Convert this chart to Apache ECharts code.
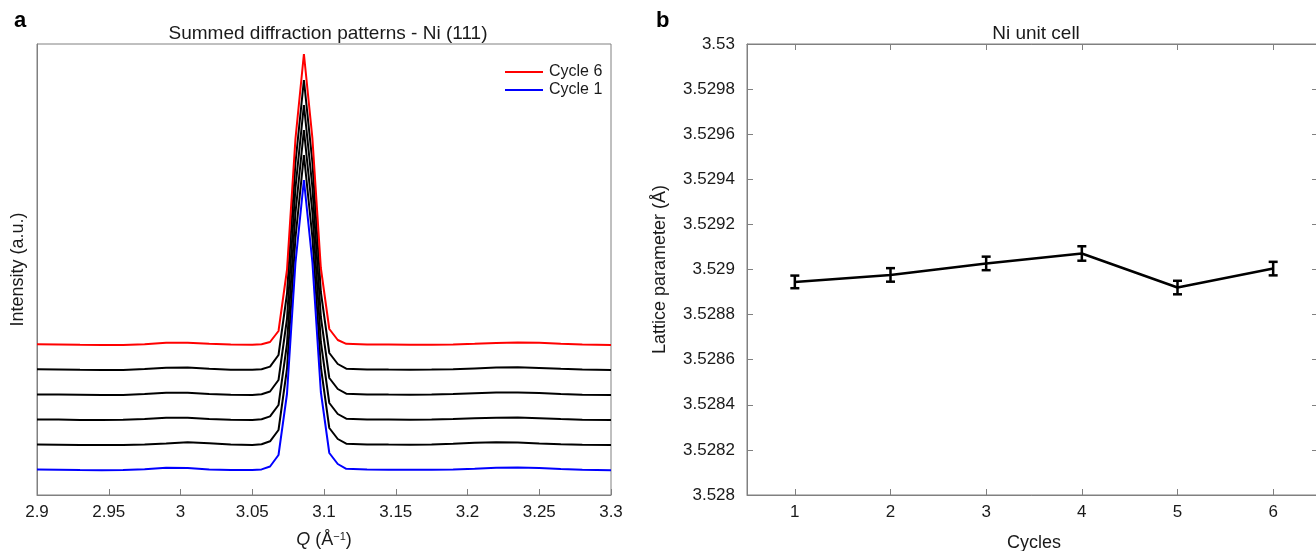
<!DOCTYPE html>
<html>
<head>
<meta charset="utf-8">
<script src="https://cdn.jsdelivr.net/npm/echarts@6/dist/echarts.min.js"></script>
<style>
  html, body { margin: 0; padding: 0; background: #fff; }
  #chart { width: 1316px; height: 551px; }
</style>
</head>
<body>
<div id="chart"></div>
<script>
// panel a - summed diffraction patterns, Ni (111)
const q = [2.9, 2.915, 2.93, 2.945, 2.96, 2.975, 2.99, 3.005, 3.02, 3.035, 3.05, 3.0565,
    3.0624, 3.0683, 3.0742, 3.0801, 3.086, 3.0919, 3.0978, 3.1037, 3.1096, 3.1155,
    3.13, 3.145, 3.16, 3.175, 3.19, 3.205, 3.22, 3.235, 3.25, 3.265, 3.28, 3.3]
const cycle1 = [0.255, 0.253, 0.250, 0.248, 0.249, 0.258, 0.272, 0.270, 0.256, 0.250, 0.250, 0.256,
    0.285, 0.40, 1.01, 2.32, 3.15, 2.33, 1.03, 0.42, 0.31, 0.262,
    0.255, 0.253, 0.252, 0.252, 0.255, 0.262, 0.272, 0.275, 0.270, 0.260, 0.252, 0.248]
const cycle2 = [0.255, 0.253, 0.251, 0.249, 0.250, 0.255, 0.266, 0.278, 0.268, 0.254, 0.251, 0.257,
    0.287, 0.40, 1.01, 2.32, 3.15, 2.33, 1.03, 0.42, 0.31, 0.263,
    0.256, 0.254, 0.253, 0.255, 0.262, 0.272, 0.278, 0.275, 0.266, 0.258, 0.252, 0.250]
const cycle3 = [0.256, 0.254, 0.251, 0.250, 0.252, 0.260, 0.272, 0.272, 0.260, 0.252, 0.251, 0.257,
    0.286, 0.40, 1.01, 2.32, 3.15, 2.33, 1.03, 0.42, 0.31, 0.263,
    0.255, 0.254, 0.253, 0.255, 0.260, 0.268, 0.273, 0.274, 0.268, 0.260, 0.253, 0.250]
const cycle4 = [0.256, 0.254, 0.252, 0.250, 0.251, 0.259, 0.273, 0.273, 0.261, 0.253, 0.251, 0.257,
    0.285, 0.40, 1.01, 2.32, 3.15, 2.33, 1.03, 0.42, 0.31, 0.263,
    0.256, 0.254, 0.253, 0.254, 0.259, 0.267, 0.274, 0.276, 0.270, 0.261, 0.253, 0.250]
const cycle5 = [0.257, 0.255, 0.252, 0.250, 0.251, 0.259, 0.273, 0.274, 0.262, 0.253, 0.252, 0.258,
    0.284, 0.40, 1.01, 2.32, 3.15, 2.33, 1.03, 0.42, 0.31, 0.263,
    0.256, 0.254, 0.253, 0.254, 0.258, 0.266, 0.274, 0.277, 0.271, 0.262, 0.254, 0.250]
const cycle6 = [0.258, 0.256, 0.253, 0.251, 0.251, 0.258, 0.272, 0.272, 0.262, 0.254, 0.252, 0.258,
    0.280, 0.39, 1.00, 2.31, 3.16, 2.32, 1.02, 0.41, 0.30, 0.262,
    0.255, 0.254, 0.253, 0.253, 0.256, 0.262, 0.270, 0.274, 0.272, 0.262, 0.254, 0.250]
const offsets = [0, 0.25, 0.5, 0.75, 1.0, 1.25]

// panel b - Ni unit cell
const cycles = [1, 2, 3, 4, 5, 6]
const lattice = [3.528945, 3.528976, 3.529027, 3.529071, 3.528920, 3.529004]
const latticeErr = [0.000028, 0.000030, 0.000030, 0.000032, 0.000030, 0.000030]

const FONT = '"Liberation Sans", Arial, sans-serif'
const TXT = '#1a1a1a'
const FRAME = '#808080'

let chart = echarts.init(document.getElementById('chart'))

function curve(vals, off) {
    return q.map((x, i) => [x, vals[i] + off])
}

let profiles = [cycle1, cycle2, cycle3, cycle4, cycle5, cycle6]
let series = []
for (let i = 1; i <= 4; i++) {
    series.push({
        name: 'Cycle ' + (i + 1), type: 'line', xAxisIndex: 0, yAxisIndex: 0,
        data: curve(profiles[i], offsets[i]), symbol: 'none',
        lineStyle: { color: '#000', width: 2 }, itemStyle: { color: '#000' }
    })
}
series.push({
    name: 'Cycle 6', type: 'line', xAxisIndex: 0, yAxisIndex: 0,
    data: curve(cycle6, offsets[5]), symbol: 'none',
    lineStyle: { color: '#ff0000', width: 2 }, itemStyle: { color: '#ff0000' }
})
series.push({
    name: 'Cycle 1', type: 'line', xAxisIndex: 0, yAxisIndex: 0,
    data: curve(cycle1, offsets[0]), symbol: 'none',
    lineStyle: { color: '#0000ff', width: 2 }, itemStyle: { color: '#0000ff' }
})

series.push({
    type: 'line', xAxisIndex: 1, yAxisIndex: 1,
    data: cycles.map((c, i) => [c, lattice[i]]), symbol: 'none',
    lineStyle: { color: '#000', width: 2.5 }, z: 3
})
series.push({
    type: 'custom', xAxisIndex: 1, yAxisIndex: 1, z: 4,
    data: cycles.map((c, i) => [c, lattice[i] - latticeErr[i], lattice[i] + latticeErr[i]]),
    encode: { x: 0, y: [1, 2] },
    renderItem(params, api) {
        let lo = api.coord([api.value(0), api.value(1)])
        let hi = api.coord([api.value(0), api.value(2)])
        let w = 4.5
        let st = { stroke: '#000', lineWidth: 2.5 }
        return {
            type: 'group',
            children: [
                { type: 'line', shape: { x1: lo[0], y1: lo[1], x2: hi[0], y2: hi[1] }, style: st },
                { type: 'line', shape: { x1: lo[0] - w, y1: lo[1], x2: lo[0] + w, y2: lo[1] }, style: st },
                { type: 'line', shape: { x1: hi[0] - w, y1: hi[1], x2: hi[0] + w, y2: hi[1] }, style: st }
            ]
        }
    }
})

let option = {
    animation: false,
    textStyle: { fontFamily: FONT },
    title: [
        { text: 'a', left: 9, top: 5, textStyle: { fontSize: 22, fontWeight: 'bold', color: '#000', fontFamily: FONT } },
        { text: 'b', left: 651, top: 5, textStyle: { fontSize: 22, fontWeight: 'bold', color: '#000', fontFamily: FONT } },
        { text: 'Summed diffraction patterns - Ni (111)', left: 323, top: 19, textAlign: 'center',
          textStyle: { fontSize: 19, fontWeight: 'normal', color: TXT, fontFamily: FONT } },
        { text: 'Ni unit cell', left: 1031, top: 19, textAlign: 'center',
          textStyle: { fontSize: 19, fontWeight: 'normal', color: TXT, fontFamily: FONT } }
    ],
    legend: {
        data: ['Cycle 6', 'Cycle 1'],
        orient: 'vertical', left: 500, top: 59,
        icon: 'rect', itemWidth: 38, itemHeight: 2, itemGap: 2,
        textStyle: { fontSize: 16, color: TXT, fontFamily: FONT, padding: [0, 0, 0, 1] }
    },
    grid: [
        { left: 37, right: 705, top: 44, bottom: 56, show: true, borderColor: FRAME, borderWidth: 1, outerBoundsMode: 'none' },
        { left: 747, width: 574, top: 44, bottom: 56, show: true, borderColor: FRAME, borderWidth: 1, outerBoundsMode: 'none' }
    ],
    xAxis: [
        {
            gridIndex: 0, type: 'value', min: 2.9, max: 3.3, interval: 0.05,
            name: '{i|Q} (Å{s|−1})', nameLocation: 'middle', nameGap: 36,
            nameTextStyle: { fontSize: 18, color: TXT, rich: { i: { fontStyle: 'italic', fontSize: 18 }, s: { fontSize: 11, verticalAlign: 'top' } } },
            axisLine: { lineStyle: { color: FRAME } },
            axisTick: { inside: true, length: 6, lineStyle: { color: FRAME } },
            axisLabel: { fontSize: 17, color: TXT, margin: 9, formatter: v => String(+v.toFixed(2)) },
            splitLine: { show: false }
        },
        {
            gridIndex: 1, type: 'value', min: 0.5, max: 6.5,
            name: 'Cycles', nameLocation: 'middle', nameGap: 39,
            nameTextStyle: { fontSize: 18, color: TXT },
            axisLine: { lineStyle: { color: FRAME } },
            axisTick: { inside: true, length: 6, lineStyle: { color: FRAME }, customValues: cycles },
            axisLabel: { fontSize: 17, color: TXT, margin: 9, customValues: cycles },
            splitLine: { show: false }
        },
        {
            gridIndex: 1, type: 'value', position: 'top', min: 0.5, max: 6.5,
            axisLine: { lineStyle: { color: FRAME } },
            axisTick: { inside: true, length: 6, lineStyle: { color: FRAME }, customValues: cycles },
            axisLabel: { show: false }, splitLine: { show: false }
        }
    ],
    yAxis: [
        {
            gridIndex: 0, type: 'value', min: 0, max: 4.51,
            name: 'Intensity (a.u.)', nameLocation: 'middle', nameGap: 10,
            nameTextStyle: { fontSize: 18, color: TXT },
            axisLine: { lineStyle: { color: FRAME } },
            axisTick: { show: false }, axisLabel: { show: false }, splitLine: { show: false }
        },
        {
            gridIndex: 1, type: 'value', min: 3.528, max: 3.53, interval: 0.0002,
            name: 'Lattice parameter (Å)', nameLocation: 'middle', nameGap: 78,
            nameTextStyle: { fontSize: 18, color: TXT },
            axisLine: { lineStyle: { color: FRAME } },
            axisTick: { inside: true, length: 6, lineStyle: { color: FRAME } },
            axisLabel: { fontSize: 17, color: TXT, margin: 12, formatter: v => String(parseFloat(v.toFixed(4))) },
            splitLine: { show: false }
        },
        {
            gridIndex: 1, type: 'value', position: 'right', min: 3.528, max: 3.53, interval: 0.0002,
            axisLine: { lineStyle: { color: FRAME } },
            axisTick: { inside: true, length: 9, lineStyle: { color: FRAME } },
            axisLabel: { show: false }, splitLine: { show: false }
        }
    ],
    series: series
}
chart.setOption(option)
</script>
</body>
</html>
